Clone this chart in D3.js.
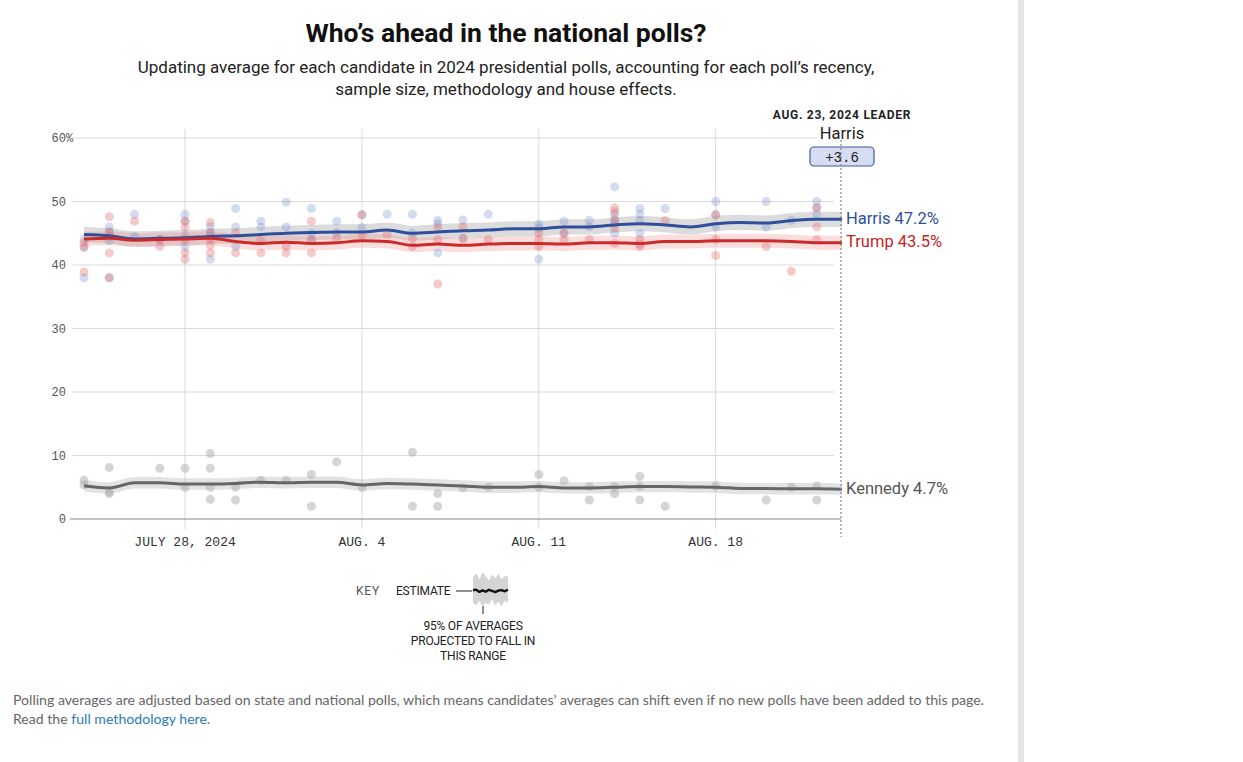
<!DOCTYPE html>
<html>
<head>
<meta charset="utf-8">
<script src="https://cdn.jsdelivr.net/npm/d3@7"></script>
<style>
  body { margin: 0; background: #fff; }
  svg { display: block; }
</style>
</head>
<body>
<div id="vis"></div>
<script type="text/javascript">

    // daily averages, Jul 24 .. Aug 23 (one value per day)
    const harrisAvg = [44.8, 44.6, 44.1, 44.2, 44.3, 44.5, 44.6, 44.8, 45.0, 45.1, 45.2, 45.2, 45.5, 45.0, 45.2, 45.4,
                       45.5, 45.7, 45.7, 46.0, 46.0, 46.3, 46.5, 46.3, 46.0, 46.5, 46.7, 46.6, 47.0, 47.2, 47.2];
    const trumpAvg = [44.1, 44.2, 43.9, 44.0, 44.1, 44.2, 43.7, 43.4, 43.6, 43.4, 43.5, 43.8, 43.7, 43.1, 43.3, 43.1,
                      43.3, 43.4, 43.4, 43.3, 43.5, 43.5, 43.4, 43.7, 43.7, 43.8, 43.8, 43.8, 43.7, 43.5, 43.5];
    const kennedyAvg = [5.25, 4.9, 5.7, 5.7, 5.5, 5.5, 5.6, 5.8, 5.7, 5.8, 5.8, 5.35, 5.6, 5.5, 5.35, 5.2,
                        5.0, 5.0, 5.1, 4.9, 4.9, 5.0, 5.1, 5.1, 5.05, 5.0, 4.8, 4.8, 4.75, 4.75, 4.7];
    const harrisMoe = 1.2, trumpMoe = 1.1, kennedyMoe = 0.9;
    const leaderName = "Harris", leaderMargin = 3.6;

    // individual polls: [date, value]
    const harrisPolls = [
        ["07-24", 44], ["07-24", 42.7], ["07-24", 38],
        ["07-25", 46], ["07-25", 45.2], ["07-25", 43.8], ["07-25", 38],
        ["07-26", 48], ["07-26", 44.5], ["07-27", 44],
        ["07-28", 48], ["07-28", 46.9], ["07-28", 42.9], ["07-28", 44.5],
        ["07-29", 46], ["07-29", 45.1], ["07-29", 40.9], ["07-29", 44.5],
        ["07-30", 48.9], ["07-30", 46], ["07-30", 42.9],
        ["07-31", 46.9], ["07-31", 46], ["08-01", 49.9], ["08-01", 46],
        ["08-02", 48.9], ["08-02", 43.9], ["08-02", 45], ["08-03", 46.9], ["08-03", 45.1],
        ["08-04", 47.9], ["08-04", 45.9], ["08-05", 48], ["08-06", 48], ["08-06", 45],
        ["08-07", 47], ["08-07", 41.9], ["08-07", 46.5], ["08-08", 47.1], ["08-08", 44.2], ["08-09", 48],
        ["08-11", 46.4], ["08-11", 40.9], ["08-11", 45.8], ["08-12", 46.9], ["08-12", 45],
        ["08-13", 47], ["08-13", 46],
        ["08-14", 52.3], ["08-14", 48], ["08-14", 47], ["08-14", 45], ["08-14", 46.5],
        ["08-15", 48.9], ["08-15", 48], ["08-15", 47], ["08-15", 45], ["08-16", 48.9],
        ["08-18", 50], ["08-18", 47.9], ["08-18", 46], ["08-20", 50], ["08-20", 46], ["08-21", 47],
        ["08-22", 50], ["08-22", 49], ["08-22", 48]
    ];
    const trumpPolls = [
        ["07-24", 42.9], ["07-24", 38.9], ["07-24", 43.5],
        ["07-25", 47.6], ["07-25", 45.2], ["07-25", 41.9], ["07-25", 38], ["07-25", 44.5],
        ["07-26", 46.9], ["07-27", 42.9], ["07-27", 44],
        ["07-28", 46.9], ["07-28", 45.9], ["07-28", 41.9], ["07-28", 40.9], ["07-28", 44],
        ["07-29", 46.7], ["07-29", 45.1], ["07-29", 43.1], ["07-29", 41.9], ["07-29", 44],
        ["07-30", 45], ["07-30", 41.9], ["07-31", 43.9], ["07-31", 41.9],
        ["08-01", 42.9], ["08-01", 41.9], ["08-02", 46.9], ["08-02", 41.9], ["08-02", 44], ["08-03", 44.2],
        ["08-04", 47.9], ["08-04", 44.7], ["08-05", 44.8], ["08-06", 44.2], ["08-06", 42.9],
        ["08-07", 45.9], ["08-07", 44], ["08-07", 37], ["08-08", 46], ["08-08", 44.2], ["08-09", 44],
        ["08-11", 45], ["08-11", 44], ["08-11", 42.9], ["08-12", 45], ["08-12", 44], ["08-13", 44],
        ["08-14", 49], ["08-14", 48.4], ["08-14", 47.1], ["08-14", 45.8], ["08-14", 43.4],
        ["08-15", 44], ["08-15", 42.9], ["08-15", 43.3], ["08-16", 47],
        ["08-18", 47.9], ["08-18", 44], ["08-18", 41.5], ["08-20", 42.9], ["08-21", 39],
        ["08-22", 49], ["08-22", 46], ["08-22", 44]
    ];
    const kennedyPolls = [
        ["07-24", 6.1], ["07-24", 5.4], ["07-25", 8.1], ["07-25", 4.0], ["07-25", 4.3],
        ["07-27", 8], ["07-28", 8], ["07-28", 5],
        ["07-29", 10.3], ["07-29", 8], ["07-29", 5], ["07-29", 3.1], ["07-30", 5], ["07-30", 3],
        ["07-31", 6.1], ["08-01", 6.1], ["08-02", 7], ["08-02", 2], ["08-03", 9], ["08-04", 5],
        ["08-06", 10.5], ["08-06", 2], ["08-07", 4], ["08-07", 2], ["08-08", 4.9], ["08-09", 5],
        ["08-11", 7], ["08-11", 5], ["08-12", 6], ["08-13", 5.1], ["08-13", 3],
        ["08-14", 5.1], ["08-14", 4], ["08-15", 6.7], ["08-15", 5.1], ["08-15", 3], ["08-16", 2],
        ["08-18", 5.2], ["08-20", 3], ["08-21", 5], ["08-22", 5.2], ["08-22", 3]
    ];

    const yTicks = [0, 10, 20, 30, 40, 50, 60];
    const xTicks = ["07-28", "08-04", "08-11", "08-18"];
    const xTickLabels = ["JULY 28, 2024", "AUG. 4", "AUG. 11", "AUG. 18"];

    // decorative key estimate + range
    const keyLine = [0.5, 0.9, -0.6, 0.4, -0.5, 0.8, 0.1, -0.7, 0.3, 0.6, -0.2, 0.9];
    const keyUpper = [14, 17, 12, 18, 15, 11, 16, 13, 17, 12, 15, 14];
    const keyLower = [-11, -14, -10, -15, -12, -13, -9, -14, -11, -15, -10, -12];

    const W = 1243, H = 762;
    const parseDay = d3.timeParse("%Y-%m-%d");
    const day = s => parseDay("2024-" + s);
    const startDay = day("07-24"), endDay = day("08-23");
    const avgDays = d3.timeDay.range(startDay, d3.timeDay.offset(endDay, 1));

    const x = d3.scaleTime().domain([startDay, endDay]).range([84, 842]);
    const y = d3.scaleLinear().domain([0, 60]).range([519, 138]);

    const svg = d3.select("#vis").append("svg").attr("width", W).attr("height", H)
        .style("font-family", "Roboto, 'Noto Sans', sans-serif");

    // right page gutter
    svg.append("rect").attr("x", 1018).attr("y", 0).attr("width", 6).attr("height", H).attr("fill", "#e6e6e6");

    // title
    svg.append("text").attr("x", 506).attr("y", 42).attr("text-anchor", "middle")
        .attr("font-size", 26.5).attr("font-weight", 700).attr("fill", "#111")
        .text("Who\u2019s ahead in the national polls?");
    const sub = svg.append("text").attr("text-anchor", "middle").attr("font-size", 17).attr("fill", "#222");
    sub.append("tspan").attr("x", 506).attr("y", 73)
        .text("Updating average for each candidate in 2024 presidential polls, accounting for each poll\u2019s recency,");
    sub.append("tspan").attr("x", 506).attr("y", 95).text("sample size, methodology and house effects.");

    // grid
    const grid = svg.append("g");
    grid.selectAll("line.h").data(yTicks.filter(t => t > 0)).join("line")
        .attr("x1", 72).attr("x2", 834).attr("y1", d => y(d)).attr("y2", d => y(d))
        .attr("stroke", "#d9d9d9").attr("stroke-width", 1);
    grid.selectAll("line.v").data(xTicks).join("line")
        .attr("x1", d => x(day(d))).attr("x2", d => x(day(d)))
        .attr("y1", 129).attr("y2", 529)
        .attr("stroke", "#d9d9d9").attr("stroke-width", 1);
    grid.append("line").attr("x1", 70).attr("x2", 841).attr("y1", y(0)).attr("y2", y(0))
        .attr("stroke", "#888").attr("stroke-width", 1.2);

    // y axis labels
    const yAxis = svg.append("g").attr("font-family", "'Liberation Mono', 'DejaVu Sans Mono', monospace")
        .attr("font-size", 12).attr("fill", "#555");
    yAxis.selectAll("text").data(yTicks).join("text")
        .attr("x", 66).attr("y", d => y(d) + 4).attr("text-anchor", "end")
        .text(d => d);
    yAxis.append("text").attr("x", 66).attr("y", y(60) + 4).text("%");

    // x axis labels
    svg.append("g").attr("font-family", "'Liberation Mono', 'DejaVu Sans Mono', monospace")
        .attr("font-size", 13).attr("fill", "#333")
        .selectAll("text").data(xTicks).join("text")
        .attr("x", d => x(day(d))).attr("y", 546).attr("text-anchor", "middle")
        .text((d, i) => xTickLabels[i]);

    const series = [
        {avg: harrisAvg, moe: harrisMoe, polls: harrisPolls, line: "#2f4f9c", band: "#8c8c8c", bandOp: 0.3, dot: "#7f97d2", dotOp: 0.35},
        {avg: trumpAvg, moe: trumpMoe, polls: trumpPolls, line: "#cc2a2a", band: "#ee8f8f", bandOp: 0.3, dot: "#e57373", dotOp: 0.38},
        {avg: kennedyAvg, moe: kennedyMoe, polls: kennedyPolls, line: "#666666", band: "#b0b0b0", bandOp: 0.35, dot: "#b3b3b3", dotOp: 0.55}
    ];

    const area = moe => d3.area().curve(d3.curveMonotoneX)
        .x((d, i) => x(avgDays[i])).y0(d => y(d - moe)).y1(d => y(d + moe));
    const line = d3.line().curve(d3.curveMonotoneX).x((d, i) => x(avgDays[i])).y(d => y(d));

    const bands = svg.append("g"), dots = svg.append("g"), lines = svg.append("g");
    series.forEach(s => {
        bands.append("path").datum(s.avg).attr("d", area(s.moe))
            .attr("fill", s.band).attr("fill-opacity", s.bandOp);
        dots.append("g").selectAll("circle").data(s.polls).join("circle")
            .attr("cx", d => x(day(d[0]))).attr("cy", d => y(d[1])).attr("r", 4.5)
            .attr("fill", s.dot).attr("fill-opacity", s.dotOp);
        lines.append("path").datum(s.avg).attr("d", line)
            .attr("fill", "none").attr("stroke", s.line).attr("stroke-width", 3)
            .attr("stroke-linejoin", "round");
    });

    // end labels
    const last = a => a[a.length - 1];
    const ends = svg.append("g").attr("font-size", 16.5);
    ends.append("text").attr("x", 846).attr("y", y(last(harrisAvg)) + 5).attr("fill", "#2f4f9c")
        .text("Harris " + last(harrisAvg).toFixed(1) + "%");
    ends.append("text").attr("x", 846).attr("y", y(last(trumpAvg)) + 4).attr("fill", "#c42525")
        .text("Trump " + last(trumpAvg).toFixed(1) + "%");
    ends.append("text").attr("x", 846).attr("y", y(last(kennedyAvg)) + 5).attr("fill", "#555")
        .text("Kennedy " + last(kennedyAvg).toFixed(1) + "%");

    // leader box
    const xe = x(endDay);
    svg.append("rect").attr("x", xe - 25).attr("y", 124).attr("width", 50).attr("height", 19).attr("fill", "#fff");
    svg.append("text").attr("x", xe).attr("y", 119).attr("text-anchor", "middle")
        .attr("font-size", 12).attr("font-weight", 700).attr("letter-spacing", 0.7).attr("fill", "#222")
        .text("AUG. 23, 2024 LEADER");
    svg.append("text").attr("x", xe).attr("y", 139).attr("text-anchor", "middle")
        .attr("font-size", 16.5).attr("fill", "#222").text(leaderName);
    svg.append("rect").attr("x", xe - 32).attr("y", 147).attr("width", 64).attr("height", 19).attr("rx", 4)
        .attr("fill", "#d6ddf0").attr("stroke", "#3b5ba5").attr("stroke-width", 1.2);
    svg.append("line").attr("x1", xe - 1).attr("x2", xe - 1).attr("y1", 140).attr("y2", 537)
        .attr("stroke", "#888").attr("stroke-width", 1.2).attr("stroke-dasharray", "2,2");
    svg.append("text").attr("x", xe).attr("y", 162).attr("text-anchor", "middle")
        .attr("font-family", "'Liberation Mono', 'DejaVu Sans Mono', monospace").attr("font-size", 14).attr("fill", "#222")
        .text("+" + leaderMargin.toFixed(1));

    // key
    const key = svg.append("g").attr("font-size", 12);
    key.append("text").attr("x", 356).attr("y", 595).attr("fill", "#555").attr("letter-spacing", 0.8).text("KEY");
    key.append("text").attr("x", 396).attr("y", 595).attr("fill", "#222").attr("letter-spacing", -0.2).text("ESTIMATE");
    key.append("line").attr("x1", 456).attr("x2", 472).attr("y1", 591).attr("y2", 591).attr("stroke", "#222");
    const kx = d3.scaleLinear().domain([0, keyLine.length - 1]).range([473, 508]);
    const ky = d3.scaleLinear().domain([-2, 2]).range([594, 588]);
    key.append("path").datum(keyUpper)
        .attr("d", d3.area().curve(d3.curveCatmullRom).x((d, i) => kx(i)).y0((d, i) => 591 - keyLower[i]).y1(d => 591 - d))
        .attr("fill", "#d4d4d4");
    key.append("path").datum(keyLine)
        .attr("d", d3.line().x((d, i) => kx(i)).y(d => ky(d)))
        .attr("fill", "none").attr("stroke", "#111").attr("stroke-width", 2.4).attr("stroke-linejoin", "round");
    key.append("line").attr("x1", 483).attr("x2", 483).attr("y1", 606).attr("y2", 614).attr("stroke", "#222");
    const kt = key.append("text").attr("text-anchor", "middle").attr("fill", "#222").attr("letter-spacing", -0.2);
    ["95% OF AVERAGES", "PROJECTED TO FALL IN", "THIS RANGE"].forEach((t, i) =>
        kt.append("tspan").attr("x", 473).attr("y", 630 + i * 15).text(t));

    // footer
    const foot = svg.append("text").attr("font-family", "Lato, 'Open Sans', sans-serif").attr("font-size", 14.1).attr("fill", "#666");
    foot.append("tspan").attr("x", 13).attr("y", 705)
        .text("Polling averages are adjusted based on state and national polls, which means candidates\u2019 averages can shift even if no new polls have been added to this page.");
    foot.append("tspan").attr("x", 13).attr("y", 724).text("Read the ");
    foot.append("tspan").attr("fill", "#2b7bb9").text("full methodology here");
    foot.append("tspan").text(".");

</script>
</body>
</html>
